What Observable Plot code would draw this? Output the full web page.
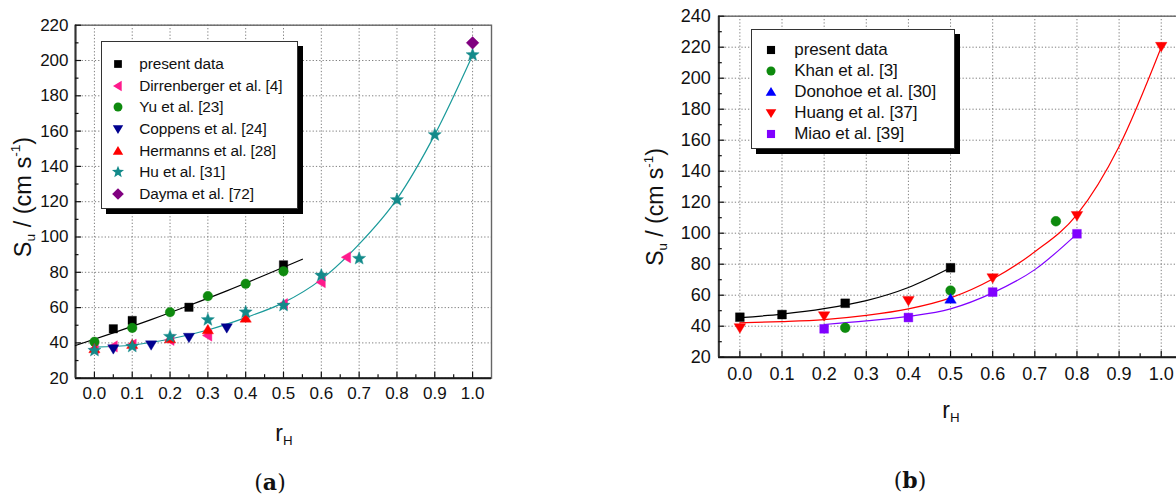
<!DOCTYPE html>
<html>
<head>
<meta charset="utf-8">
<script src="https://cdn.jsdelivr.net/npm/d3@7"></script>
<script src="https://cdn.jsdelivr.net/npm/@observablehq/plot@0.6"></script>
<style>
html, body { margin: 0; padding: 0; background: #fff; overflow: hidden; }
#wrap { position: relative; width: 1176px; height: 495px; overflow: hidden; font-family: "Liberation Sans", Arial, sans-serif; color: #111; }
.plot { position: absolute; top: 0; }
.legend { position: absolute; background: #fff; border: 1.3px solid #333; box-shadow: 5px 5px 0 #000; box-sizing: border-box; }
.legend svg { position: absolute; overflow: visible; }
.legend span { position: absolute; transform: translateY(-50%); white-space: nowrap; }
.ytitle { position: absolute; transform: translate(-50%, -50%) rotate(-90deg); white-space: nowrap; }
.xtitle { position: absolute; transform: translate(-50%, -50%); white-space: nowrap; }
.ytitle sub, .xtitle sub { font-size: 0.58em; vertical-align: -0.35em; line-height: 0; }
.ytitle sup { font-size: 0.58em; vertical-align: 0.75em; line-height: 0; }
.panel-tag { position: absolute; transform: translate(-50%, -50%); font-family: "DejaVu Serif", "Liberation Serif", serif; font-size: 22px; white-space: nowrap; }
.panel-tag b { font-weight: bold; }
</style>
</head>
<body>
<div id="wrap"></div>
<script>
// ---------- shared axis ticks ----------
const xTicks = [0.0, 0.1, 0.2, 0.3, 0.4, 0.5, 0.6, 0.7, 0.8, 0.9, 1.0];
const xMinor = [0.05, 0.15, 0.25, 0.35, 0.45, 0.55, 0.65, 0.75, 0.85, 0.95];
const xDomain = [-0.05, 1.05];

// ---------- panel (a) ----------
const yTicksA = [20, 40, 60, 80, 100, 120, 140, 160, 180, 200, 220];
const yMinorA = [30, 50, 70, 90, 110, 130, 150, 170, 190, 210];
const yDomainA = [20, 220];

const presentA_x = [0.05, 0.1, 0.25, 0.5];
const presentA_y = [48, 52.7, 60.2, 84.2];
const dirren_x = [0.0, 0.05, 0.1, 0.2, 0.3, 0.5, 0.6, 0.667];
const dirren_y = [36.6, 38, 39, 41.7, 44.2, 62, 74.4, 88.5];
const yu_x = [0.0, 0.1, 0.2, 0.3, 0.4, 0.5];
const yu_y = [40.6, 48.5, 57.4, 66.5, 73.5, 80.6];
const coppens_x = [0.05, 0.15, 0.25, 0.35];
const coppens_y = [36.7, 38.9, 43.2, 48.6];
const hermanns_x = [0.0, 0.1, 0.2, 0.3, 0.4];
const hermanns_y = [36.7, 39.1, 42.3, 47.4, 54.0];
const hu_x = [0.0, 0.1, 0.2, 0.3, 0.4, 0.5, 0.6, 0.7, 0.8, 0.9, 1.0];
const hu_y = [35.7, 38, 43.6, 53.1, 57.4, 61.2, 78.2, 87.8, 121.1, 157.9, 203.2];
const dayma_x = [1.0];
const dayma_y = [210];

const fitA_black_x = [-0.05, 0.05, 0.15, 0.25, 0.35, 0.45, 0.55];
const fitA_black_y = [38.5, 45.7, 53.2, 61.2, 69.5, 78.3, 87.4];
const fitA_teal_x = [0.0, 0.1, 0.2, 0.3, 0.4, 0.5, 0.6, 0.7, 0.8, 0.9, 1.0];
const fitA_teal_y = [37.6, 38.8, 42.2, 47.3, 54.3, 62.8, 76, 96, 121.5, 158, 203];

// ---------- panel (b) ----------
const yTicksB = [20, 40, 60, 80, 100, 120, 140, 160, 180, 200, 220, 240];
const yMinorB = [30, 50, 70, 90, 110, 130, 150, 170, 190, 210, 230];
const yDomainB = [20, 240];

const presentB_x = [0.0, 0.1, 0.25, 0.5];
const presentB_y = [45.8, 47.5, 54.8, 77.7];
const khan_x = [0.25, 0.5, 0.75];
const khan_y = [39, 63, 107.7];
const donohoe_x = [0.5];
const donohoe_y = [57.5];
const huang_x = [0.0, 0.2, 0.4, 0.6, 0.8, 1.0];
const huang_y = [39, 46.7, 56.6, 71.2, 111.4, 220.5];
const miao_x = [0.2, 0.4, 0.6, 0.8];
const miao_y = [38.3, 45.6, 62, 99.6];

const fitB_black_x = [0.0, 0.1, 0.2, 0.3, 0.4, 0.5];
const fitB_black_y = [45.5, 47.8, 51.3, 56.5, 65, 77.7];
const fitB_red_x = [0.0, 0.1, 0.2, 0.3, 0.4, 0.5, 0.6, 0.7, 0.8, 0.9, 1.0];
const fitB_red_y = [42.2, 43, 44.3, 47, 51.2, 58.3, 70.5, 88, 112, 156, 220];
const fitB_purple_x = [0.2, 0.3, 0.4, 0.5, 0.6, 0.7, 0.8];
const fitB_purple_y = [41.1, 43.4, 46.3, 51.2, 61.5, 76.5, 99.6];

// ---------- symbols ----------
function sym(fn) { return { draw(c, size) { const r = Math.sqrt(size / Math.PI); fn(c, r); } }; }
const SYM = {
  square: sym((c, r) => c.rect(-r, -r, 2 * r, 2 * r)),
  circle: sym((c, r) => { c.moveTo(r, 0); c.arc(0, 0, r, 0, 2 * Math.PI); }),
  triUp: sym((c, r) => { c.moveTo(0, -1.15 * r); c.lineTo(1.2 * r, 0.85 * r); c.lineTo(-1.2 * r, 0.85 * r); c.closePath(); }),
  triDown: sym((c, r) => { c.moveTo(0, 1.15 * r); c.lineTo(1.2 * r, -0.85 * r); c.lineTo(-1.2 * r, -0.85 * r); c.closePath(); }),
  triLeft: sym((c, r) => { c.moveTo(-1.15 * r, 0); c.lineTo(0.85 * r, -1.2 * r); c.lineTo(0.85 * r, 1.2 * r); c.closePath(); }),
  star: sym((c, r) => {
    for (let i = 0; i < 10; i++) {
      const a = -Math.PI / 2 + i * Math.PI / 5;
      const rr = i % 2 ? r * 0.55 : r * 1.3;
      const x = rr * Math.cos(a), y = rr * Math.sin(a);
      if (i) c.lineTo(x, y); else c.moveTo(x, y);
    }
    c.closePath();
  }),
  diamond: sym((c, r) => { const d = 1.35 * r; c.moveTo(0, -d); c.lineTo(d, 0); c.lineTo(0, d); c.lineTo(-d, 0); c.closePath(); })
};

const rows = (xs, ys) => xs.map((x, i) => ({x, y: ys[i]}));

const seriesA = [
  {name: "present data", xs: presentA_x, ys: presentA_y, sym: "square", color: "#000000", r: 4.2},
  {name: "Dirrenberger et al. [4]", xs: dirren_x, ys: dirren_y, sym: "triLeft", color: "#ff1a8c", r: 4.7},
  {name: "Yu et al. [23]", xs: yu_x, ys: yu_y, sym: "circle", color: "#0e8a0e", r: 4.8},
  {name: "Coppens et al. [24]", xs: coppens_x, ys: coppens_y, sym: "triDown", color: "#00008f", r: 4.7},
  {name: "Hermanns et al. [28]", xs: hermanns_x, ys: hermanns_y, sym: "triUp", color: "#ff0000", r: 4.7},
  {name: "Hu et al. [31]", xs: hu_x, ys: hu_y, sym: "star", color: "#138a8a", r: 5.3},
  {name: "Dayma et al. [72]", xs: dayma_x, ys: dayma_y, sym: "diamond", color: "#800080", r: 4.7}
];
const fitsA = [
  {xs: fitA_black_x, ys: fitA_black_y, color: "#000000"},
  {xs: fitA_teal_x, ys: fitA_teal_y, color: "#1a9a9a"}
];
const seriesB = [
  {name: "present data", xs: presentB_x, ys: presentB_y, sym: "square", color: "#000000", r: 4.4},
  {name: "Khan et al. [3]", xs: khan_x, ys: khan_y, sym: "circle", color: "#0e8a0e", r: 4.9},
  {name: "Donohoe et al. [30]", xs: donohoe_x, ys: donohoe_y, sym: "triUp", color: "#0000ff", r: 4.8},
  {name: "Huang et al. [37]", xs: huang_x, ys: huang_y, sym: "triDown", color: "#ff0000", r: 4.8},
  {name: "Miao et al. [39]", xs: miao_x, ys: miao_y, sym: "square", color: "#8000ff", r: 4.4}
];
const fitsB = [
  {xs: fitB_black_x, ys: fitB_black_y, color: "#000000"},
  {xs: fitB_red_x, ys: fitB_red_y, color: "#ff0000"},
  {xs: fitB_purple_x, ys: fitB_purple_y, color: "#8000ff"}
];

function panel(o) {
  const fs = o.fontSize;
  return Plot.plot({
    width: o.width, height: o.height,
    marginLeft: o.ml, marginRight: o.mr, marginTop: o.mt, marginBottom: o.mb,
    x: {domain: xDomain},
    y: {domain: o.yDomain},
    style: {fontFamily: "'Liberation Sans', Arial, sans-serif", fontSize: fs + "px", color: "#111", background: "transparent", overflow: "visible"},
    marks: [
      Plot.gridX(xTicks, {stroke: "#808080", strokeOpacity: 1, strokeWidth: 1, strokeDasharray: "1.3,2"}),
      Plot.gridY(o.yTicks, {stroke: "#808080", strokeOpacity: 1, strokeWidth: 1, strokeDasharray: "1.3,2"}),
      Plot.frame({stroke: "#666", strokeWidth: 1.4}),
      Plot.ruleY([o.yDomain[0]], {stroke: "#1a1a1a", strokeWidth: 2}),
      Plot.ruleX([xDomain[0]], {stroke: "#333", strokeWidth: 2}),
      Plot.axisX(xTicks, {tickSize: -6, tickFormat: () => "", label: null, strokeWidth: 1.2}),
      Plot.axisX(xMinor, {tickSize: -3.5, tickFormat: () => "", label: null, strokeWidth: 1.2}),
      Plot.axisX(xTicks, {tickSize: 0, tickPadding: o.xPad, tickFormat: d => d.toFixed(1), label: null, fontSize: fs}),
      Plot.axisY(o.yTicks, {tickSize: -6, tickFormat: () => "", label: null, strokeWidth: 1.2}),
      Plot.axisY(o.yMinor, {tickSize: -3.5, tickFormat: () => "", label: null, strokeWidth: 1.2}),
      Plot.axisY(o.yTicks, {tickSize: 0, tickPadding: o.yPad, label: null, fontSize: fs}),
      ...o.fits.map(f => Plot.line(rows(f.xs, f.ys), {x: "x", y: "y", stroke: f.color, strokeWidth: 1.2, curve: "monotone-x"})),
      ...o.series.map(s => Plot.dot(rows(s.xs, s.ys), {x: "x", y: "y", symbol: SYM[s.sym], r: s.r, fill: s.color, stroke: s.color, strokeWidth: 0.4}))
    ]
  });
}

const wrap = document.getElementById("wrap");

function place(el, left) { el.classList.add("plot"); el.style.left = left + "px"; wrap.appendChild(el); }

place(panel({width: 540, height: 460, ml: 75, mr: 49, mt: 24.7, mb: 82.3, yDomain: yDomainA, yTicks: yTicksA, yMinor: yMinorA,
  fontSize: 17, xPad: 9, yPad: 7, fits: fitsA, series: seriesA}), 0);
place(panel({width: 560, height: 460, ml: 78.3, mr: 18.2, mt: 15.7, mb: 103.3, yDomain: yDomainB, yTicks: yTicksB, yMinor: yMinorB,
  fontSize: 18, xPad: 10, yPad: 8, fits: fitsB, series: seriesB}), 640);

function legend(series, box) {
  const d = document.createElement("div");
  d.className = "legend";
  Object.assign(d.style, {left: box.left + "px", top: box.top + "px", width: box.width + "px", height: box.height + "px", fontSize: box.fontSize + "px", letterSpacing: box.ls + "px"});
  series.forEach((s, i) => {
    const cy = box.first + i * box.step;
    const svgNS = "http://www.w3.org/2000/svg";
    const svg = document.createElementNS(svgNS, "svg");
    svg.setAttribute("width", 2); svg.setAttribute("height", 2);
    svg.style.left = (box.symX - 1) + "px"; svg.style.top = (cy - 1) + "px";
    const p = document.createElementNS(svgNS, "path");
    p.setAttribute("d", d3.symbol(SYM[s.sym], s.r * s.r * Math.PI * box.symScale)());
    p.setAttribute("transform", "translate(1,1)");
    p.setAttribute("fill", s.color);
    svg.appendChild(p);
    d.appendChild(svg);
    const t = document.createElement("span");
    t.textContent = s.name;
    t.style.left = box.textX + "px"; t.style.top = cy + "px";
    d.appendChild(t);
  });
  wrap.appendChild(d);
}
legend(seriesA, {left: 100.7, top: 40.7, width: 197.6, height: 168.3, first: 22.6, step: 21.57, symX: 16.3, textX: 37.6, fontSize: 15.4, ls: -0.1, symScale: 0.85});
legend(seriesB, {left: 750.7, top: 29.3, width: 204.3, height: 119.7, first: 20, step: 20.85, symX: 19.3, textX: 42.6, fontSize: 17, ls: -0.1, symScale: 0.85});

function addHTML(cls, html, x, y, size) {
  const e = document.createElement("div");
  e.className = cls; e.innerHTML = html;
  e.style.left = x + "px"; e.style.top = y + "px";
  if (size) e.style.fontSize = size + "px";
  wrap.appendChild(e);
}
addHTML("ytitle", "S<sub>u</sub> / (cm s<sup>-1</sup>)", 23, 197, 23.5);
addHTML("ytitle", "S<sub>u</sub> / (cm s<sup>-1</sup>)", 655, 207, 23);
addHTML("xtitle", "r<sub>H</sub>", 284, 433, 23);
addHTML("xtitle", "r<sub>H</sub>", 951, 410, 23);
addHTML("panel-tag", "(<b>a</b>)", 270, 482);
addHTML("panel-tag", "(<b>b</b>)", 910, 480);
</script>
</body>
</html>
